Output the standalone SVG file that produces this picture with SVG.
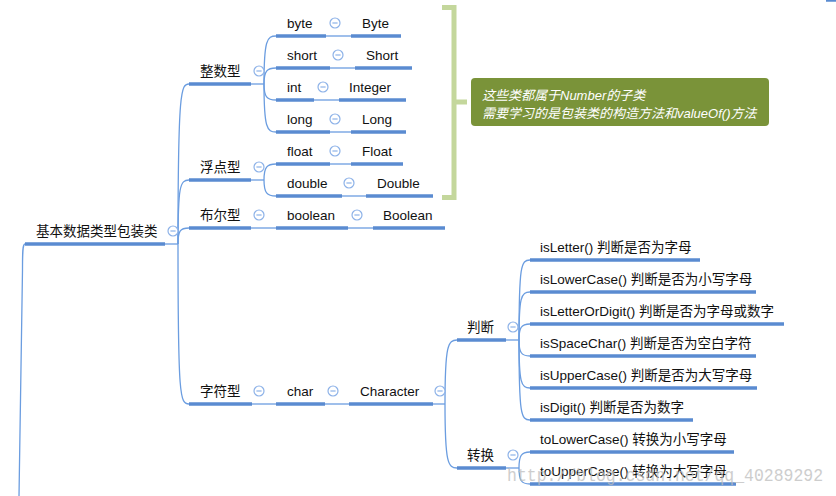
<svg xmlns="http://www.w3.org/2000/svg" xmlns:xlink="http://www.w3.org/1999/xlink" width="836" height="496" viewBox="0 0 836 496">
<style>
.t{font-family:"Liberation Sans","Noto Sans CJK SC",sans-serif;font-size:13.5px;fill:#111}
.u{stroke:#5a8bd1;stroke-width:3.5;fill:none}
.c{stroke:#6b9de0;stroke-width:1.3;fill:none}
.n{font-family:"Liberation Sans","Noto Sans CJK SC",sans-serif;font-size:13px;font-style:italic;fill:#ffffff}
.wm{font-family:"Liberation Mono","Liberation Serif",monospace;font-size:19px;fill:#bdbdbd;opacity:0.75}
</style>
<defs>
<g id="minus"><circle r="5" fill="#ffffff" stroke="#8db2e8" stroke-width="1.2"/><line x1="-2.6" y1="0" x2="2.6" y2="0" stroke="#8db2e8" stroke-width="1.2"/></g>
</defs>
<rect width="836" height="496" fill="#ffffff"/>
<g id="connectors">
<path class="c" d="M25 244 C22.5 244 22.5 252 22.5 270 L19 496"/>
<path class="c" d="M165 244 H178"/>
<path class="c" d="M178 244 C178 90 181 84 189 84"/>
<path class="c" d="M178 244 C178 186 180 180 189 180"/>
<path class="c" d="M178 244 C178 231 180 228 189 228"/>
<path class="c" d="M178 244 C178 398 180 404 189 404"/>
<path class="c" d="M251 84 H264"/>
<path class="c" d="M264 84 C264 40 267 36 276 36"/>
<path class="c" d="M264 84 C264 71 267 68 276 68"/>
<path class="c" d="M264 84 C264 97 267 100 276 100"/>
<path class="c" d="M264 84 C264 128 267 132 276 132"/>
<path class="c" d="M251 180 H264"/>
<path class="c" d="M264 180 C264 167 267 164 276 164"/>
<path class="c" d="M264 180 C264 193 267 196 276 196"/>
<path class="c" d="M326 36 H351"/>
<path class="c" d="M330 68 H355"/>
<path class="c" d="M314 100 H339"/>
<path class="c" d="M330 132 H351"/>
<path class="c" d="M330 164 H351"/>
<path class="c" d="M342 196 H366"/>
<path class="c" d="M251 228 H276"/>
<path class="c" d="M348 228 H373"/>
<path class="c" d="M252 404 H276"/>
<path class="c" d="M325 404 H349"/>
<path class="c" d="M433 404 H445"/>
<path class="c" d="M445 404 C445 345 448 340 457 340"/>
<path class="c" d="M445 404 C445 463 448 468 457 468"/>
<path class="c" d="M506 340 H519"/>
<path class="c" d="M519 340 C519 265 521 260 530 260"/>
<path class="c" d="M519 340 C519 297 521 292 530 292"/>
<path class="c" d="M519 340 C519 328 521 324 530 324"/>
<path class="c" d="M519 340 C519 352 521 356 530 356"/>
<path class="c" d="M519 340 C519 383 521 388 530 388"/>
<path class="c" d="M519 340 C519 415 521 420 530 420"/>
<path class="c" d="M506 468 H519"/>
<path class="c" d="M519 468 C519 456 521 452 530 452"/>
<path class="c" d="M519 468 C519 480 521 484 530 484"/>
</g>
<g id="root"><line class="u" x1="25" y1="244" x2="165" y2="244"/><text class="t" x="36" y="236">基本数据类型包装类</text><use xlink:href="#minus" x="173" y="231"/></g>
<g id="n-int"><line class="u" x1="189" y1="84" x2="251" y2="84"/><text class="t" x="200" y="76">整数型</text><use xlink:href="#minus" x="259" y="71"/></g>
<g id="n-float"><line class="u" x1="189" y1="180" x2="251" y2="180"/><text class="t" x="200" y="172">浮点型</text><use xlink:href="#minus" x="259" y="167"/></g>
<g id="n-bool"><line class="u" x1="189" y1="228" x2="251" y2="228"/><text class="t" x="200" y="220">布尔型</text><use xlink:href="#minus" x="259" y="215"/></g>
<g id="n-char"><line class="u" x1="189" y1="404" x2="252" y2="404"/><text class="t" x="200" y="396">字符型</text><use xlink:href="#minus" x="259" y="391"/></g>
<g id="byte"><line class="u" x1="276" y1="36" x2="326" y2="36"/><text class="t" x="287" y="28">byte</text><use xlink:href="#minus" x="335" y="23"/></g>
<g id="Byte"><line class="u" x1="351" y1="36" x2="401" y2="36"/><text class="t" x="362" y="28">Byte</text></g>
<g id="short"><line class="u" x1="276" y1="68" x2="330" y2="68"/><text class="t" x="287" y="60">short</text><use xlink:href="#minus" x="338" y="55"/></g>
<g id="Short"><line class="u" x1="355" y1="68" x2="412" y2="68"/><text class="t" x="366" y="60">Short</text></g>
<g id="int"><line class="u" x1="276" y1="100" x2="314" y2="100"/><text class="t" x="287" y="92">int</text><use xlink:href="#minus" x="323" y="87"/></g>
<g id="Integer"><line class="u" x1="339" y1="100" x2="406" y2="100"/><text class="t" x="349" y="92">Integer</text></g>
<g id="long"><line class="u" x1="276" y1="132" x2="330" y2="132"/><text class="t" x="287" y="124">long</text><use xlink:href="#minus" x="335" y="119"/></g>
<g id="Long"><line class="u" x1="351" y1="132" x2="406" y2="132"/><text class="t" x="362" y="124">Long</text></g>
<g id="float"><line class="u" x1="276" y1="164" x2="330" y2="164"/><text class="t" x="287" y="156">float</text><use xlink:href="#minus" x="335" y="151"/></g>
<g id="Float"><line class="u" x1="351" y1="164" x2="403" y2="164"/><text class="t" x="362" y="156">Float</text></g>
<g id="double"><line class="u" x1="276" y1="196" x2="342" y2="196"/><text class="t" x="287" y="188">double</text><use xlink:href="#minus" x="349" y="183"/></g>
<g id="Double"><line class="u" x1="366" y1="196" x2="433" y2="196"/><text class="t" x="377" y="188">Double</text></g>
<g id="boolean"><line class="u" x1="276" y1="228" x2="348" y2="228"/><text class="t" x="287" y="220">boolean</text><use xlink:href="#minus" x="357" y="215"/></g>
<g id="Boolean"><line class="u" x1="373" y1="228" x2="445" y2="228"/><text class="t" x="383" y="220">Boolean</text></g>
<g id="char"><line class="u" x1="276" y1="404" x2="325" y2="404"/><text class="t" x="287" y="396">char</text><use xlink:href="#minus" x="333" y="391"/></g>
<g id="Character"><line class="u" x1="349" y1="404" x2="433" y2="404"/><text class="t" x="360" y="396">Character</text><use xlink:href="#minus" x="440" y="391"/></g>
<g id="judge"><line class="u" x1="457" y1="340" x2="506" y2="340"/><text class="t" x="467" y="332">判断</text><use xlink:href="#minus" x="513" y="327"/></g>
<g id="convert"><line class="u" x1="457" y1="468" x2="506" y2="468"/><text class="t" x="467" y="460">转换</text><use xlink:href="#minus" x="513" y="455"/></g>
<g id="isLetter"><line class="u" x1="530" y1="260" x2="700" y2="260"/><text class="t" x="540" y="252">isLetter() 判断是否为字母</text></g>
<g id="isLowerCase"><line class="u" x1="530" y1="292" x2="756" y2="292"/><text class="t" x="540" y="284">isLowerCase() 判断是否为小写字母</text></g>
<g id="isLetterOrDigit"><line class="u" x1="530" y1="324" x2="784" y2="324"/><text class="t" x="540" y="316">isLetterOrDigit() 判断是否为字母或数字</text></g>
<g id="isSpaceChar"><line class="u" x1="530" y1="356" x2="756" y2="356"/><text class="t" x="540" y="348">isSpaceChar() 判断是否为空白字符</text></g>
<g id="isUpperCase"><line class="u" x1="530" y1="388" x2="757" y2="388"/><text class="t" x="540" y="380">isUpperCase() 判断是否为大写字母</text></g>
<g id="isDigit"><line class="u" x1="530" y1="420" x2="693" y2="420"/><text class="t" x="540" y="412">isDigit() 判断是否为数字</text></g>
<g id="toLowerCase"><line class="u" x1="530" y1="452" x2="734" y2="452"/><text class="t" x="540" y="444">toLowerCase() 转换为小写字母</text></g>
<g id="toUpperCase"><line class="u" x1="530" y1="484" x2="736" y2="484"/><text class="t" x="540" y="476">toUpperCase() 转换为大写字母</text></g>
<g id="offscreen"><line class="u" x1="826" y1="0" x2="836" y2="0"/></g>
<g id="bracket"><path d="M442 7.5 H454 V197.5 H442 M454 102 H467" fill="none" stroke="#c4d79c" stroke-width="5"/></g>
<g id="note"><rect x="471" y="78" width="298" height="48" rx="4" fill="#7a9339"/><text class="n" x="482" y="100">这些类都属于Number的子类</text><text class="n" x="482" y="118">需要学习的是包装类的构造方法和valueOf()方法</text></g>
<text class="wm" x="507" y="481" textLength="316" lengthAdjust="spacingAndGlyphs">http://blog.csdn.net/qq_40289292</text>
</svg>
